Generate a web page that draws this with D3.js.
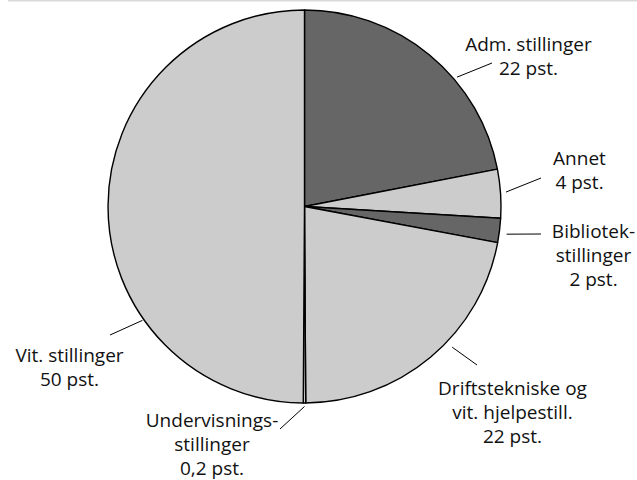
<!DOCTYPE html>
<html>
<head>
<meta charset="utf-8">
<script src="https://cdn.jsdelivr.net/npm/d3@7"></script>
<style>
  html, body { margin: 0; padding: 0; background: #fff; }
  svg { display: block; }
  text { font-family: "Open Sans", "Noto Sans", sans-serif; font-size: 19px; fill: #111; }
</style>
</head>
<body>
<svg id="chart" width="637" height="480"></svg>
<script>
// ---- data ----
const categories = ["Adm. stillinger", "Annet", "Bibliotekstillinger", "Driftstekniske og vit. hjelpestill.", "Undervisningsstillinger", "Vit. stillinger"];
const values = [22, 4, 2, 22, 0.2, 50];
const valueLabels = ["22 pst.", "4 pst.", "2 pst.", "22 pst.", "0,2 pst.", "50 pst."];
const labelLines = [
  ["Adm. stillinger", "22 pst."],
  ["Annet", "4 pst."],
  ["Bibliotek-", "stillinger", "2 pst."],
  ["Driftstekniske og", "vit. hjelpestill.", "22 pst."],
  ["Undervisnings-", "stillinger", "0,2 pst."],
  ["Vit. stillinger", "50 pst."]
];

// ---- style / layout ----
const fills = ["#666666", "#cccccc", "#666666", "#cccccc", "#cccccc", "#cccccc"];
const W = 637, H = 480;
const cx = 304.5, cy = 206.5, R = 196.5;
// leader lines: start angle (deg from top, clockwise) & end point; text centre & first baseline
const layout = [
  { a: 49.7, r0: 200, end: [492, 63],  tx: 528.5, ty: 51 },
  { a: 85.9, r0: 202, end: [541, 178], tx: 579.5, ty: 165 },
  { a: 97.8, r0: 204, end: [541, 234], tx: 593.5, ty: 238 },
  { a: 133.6, r0: 204, end: [477, 365], tx: 512.5, ty: 395 },
  { a: 180.0, r0: 200, end: [280, 429], tx: 212, ty: 427 },
  { a: 234.9, r0: 198, end: [110, 335], tx: 69.5, ty: 362 }
];
const lineH = 24;

const svg = d3.select("#chart");

// top border line
svg.append("rect").attr("x", 8).attr("y", 0).attr("width", W - 8).attr("height", 1.5).attr("fill", "#d9d9d9");

const g = svg.append("g").attr("transform", `translate(${cx},${cy})`);

const pie = d3.pie().sort(null).value(d => d)(values);
const arc = d3.arc().innerRadius(0).outerRadius(R);

g.selectAll("path.slice")
  .data(pie)
  .join("path")
  .attr("class", "slice")
  .attr("d", arc)
  .attr("fill", (d, i) => fills[i])
  .attr("stroke", "#000")
  .attr("stroke-width", 1.4)
  .attr("stroke-linejoin", "round");

// leader lines
svg.selectAll("line.leader")
  .data(layout)
  .join("line")
  .attr("class", "leader")
  .attr("x1", d => cx + d.r0 * Math.sin(d.a * Math.PI / 180))
  .attr("y1", d => cy - d.r0 * Math.cos(d.a * Math.PI / 180))
  .attr("x2", d => d.end[0])
  .attr("y2", d => d.end[1])
  .attr("stroke", "#000")
  .attr("stroke-width", 1);

// labels
labelLines.forEach((lines, i) => {
  const t = svg.append("text")
    .attr("text-anchor", "middle")
    .attr("x", layout[i].tx)
    .attr("y", layout[i].ty);
  lines.forEach((s, j) => {
    t.append("tspan").attr("x", layout[i].tx).attr("dy", j === 0 ? 0 : lineH).text(s);
  });
});
</script>
</body>
</html>
